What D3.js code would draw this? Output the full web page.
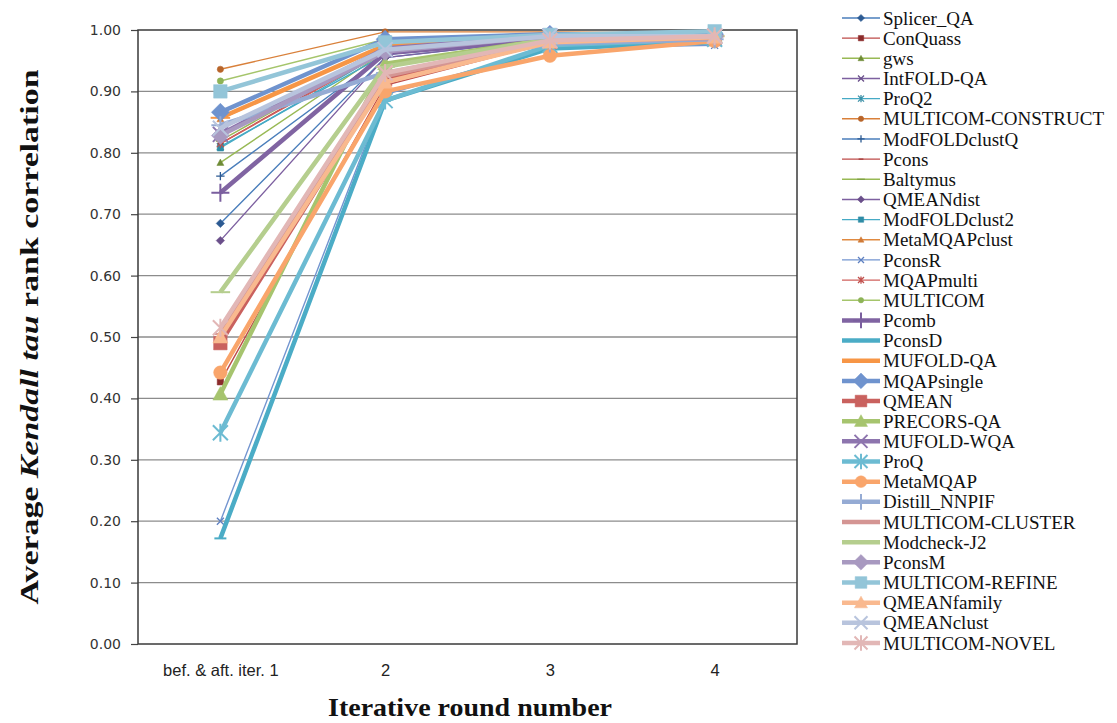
<!DOCTYPE html>
<html><head><meta charset="utf-8">
<script src="https://cdn.jsdelivr.net/npm/d3@7"></script>
<style>body{margin:0;background:#fff}svg{display:block}</style>
</head><body>
<svg id="chart" width="1117" height="723"></svg>
<script>
const categories = ["bef. & aft. iter. 1", "2", "3", "4"];
const seriesNames = ["Splicer_QA","ConQuass","gws","IntFOLD-QA","ProQ2","MULTICOM-CONSTRUCT","ModFOLDclustQ","Pcons","Baltymus","QMEANdist","ModFOLDclust2","MetaMQAPclust","PconsR","MQAPmulti","MULTICOM","Pcomb","PconsD","MUFOLD-QA","MQAPsingle","QMEAN","PRECORS-QA","MUFOLD-WQA","ProQ","MetaMQAP","Distill_NNPIF","MULTICOM-CLUSTER","Modcheck-J2","PconsM","MULTICOM-REFINE","QMEANfamily","QMEANclust","MULTICOM-NOVEL"];
const round1 = [0.685,0.427,0.784,0.840,0.810,0.936,0.762,0.815,0.820,0.657,0.808,0.855,0.200,0.815,0.917,0.735,0.172,0.857,0.866,0.490,0.407,0.830,0.344,0.442,0.845,0.505,0.573,0.828,0.900,0.500,0.840,0.515];
const round2 = [0.955,0.910,0.965,0.970,0.960,0.997,0.960,0.968,0.970,0.955,0.965,0.975,0.895,0.965,0.985,0.962,0.885,0.975,0.985,0.920,0.945,0.970,0.885,0.900,0.930,0.925,0.940,0.965,0.980,0.915,0.968,0.930];
const round3 = [0.985,0.980,0.990,0.990,0.985,0.997,0.988,0.990,0.990,0.985,0.988,0.992,0.970,0.988,0.995,0.985,0.970,0.990,0.993,0.980,0.985,0.990,0.975,0.958,0.978,0.982,0.985,0.990,0.992,0.980,0.990,0.983];
const round4 = [0.988,0.985,0.990,0.990,0.990,0.995,0.990,0.990,0.992,0.988,0.990,0.992,0.975,0.990,0.995,0.990,0.980,0.990,0.993,0.985,0.990,0.990,0.985,0.982,0.985,0.987,0.990,0.990,0.998,0.988,0.990,0.990];
const yTicks = [0,0.1,0.2,0.3,0.4,0.5,0.6,0.7,0.8,0.9,1.0];

const colors = ["#4A7EBB","#BE4B48","#98B954","#7D60A0","#46AAC5","#D9803A",
  "#4A7EBB","#BE4B48","#98B954","#7D60A0","#46AAC5","#E08A40",
  "#7395D0","#D0605D","#A5C56B","#8064A2","#4BACC6","#F79646",
  "#6F93CE","#C9615E","#A6C46E","#8D75AE","#6CBBD2","#F9A56B",
  "#95ABD4","#D49593","#B5CE8E","#A899C0","#93C5D8","#F9B98F","#B8C4DD","#E2B7B6"];
const markerColors = ["#2C5A92","#8B2B2B","#6E8B35","#6A4F8A","#3A8FA6","#B8652A",
  "#2C5A92","#A23B39","#7FA145","#6A4F8A","#2F8CA6","#D07A37",
  "#5D7FC0","#C0504D","#8DB356","#7A5E9E","#4BACC6","#F79646",
  "#6F93CE","#C9615E","#A6C46E","#8D75AE","#6CBBD2","#F9A56B",
  "#95ABD4","#D49593","#B5CE8E","#A899C0","#93C5D8","#F9B98F","#B8C4DD","#E2B7B6"];
const markers = ["diamond","square","triangle","x","asterisk","circle",
  "plus","dash","longdash","diamond","square","triangle",
  "x","asterisk","circle","plus","dash","longdash",
  "diamond","square","triangle","x","asterisk","circle",
  "plus","dash","longdash","diamond","square","triangle","x","asterisk"];

(function () {
const svg = d3.select("#chart");
const pL = 138, pR = 797, pT = 30, pB = 644;
const x = d3.scalePoint().domain(categories).range([pL, pR]).padding(0.5);
const y = d3.scaleLinear().domain([0, 1]).range([pB, pT]);

svg.append("g").selectAll("line").data(yTicks.slice(1, -1)).join("line")
  .attr("x1", pL).attr("x2", pR)
  .attr("y1", d => y(d)).attr("y2", d => y(d))
  .attr("stroke", "#8c8c8c").attr("stroke-width", 1.3);

const yAxis = svg.append("g").attr("transform", `translate(${pL},0)`)
  .call(d3.axisLeft(y).tickValues(yTicks).tickFormat(d3.format(".2f")).tickSize(7).tickPadding(10));
yAxis.select(".domain").remove();
yAxis.selectAll("line").attr("stroke", "#444").attr("stroke-width", 1.2);
yAxis.selectAll("text").attr("font-family", "DejaVu Sans, Verdana, sans-serif")
  .attr("font-size", 14).attr("fill", "#333");

const xAxis = svg.append("g").attr("transform", `translate(0,${pB})`)
  .call(d3.axisBottom(x).tickSize(0).tickPadding(20));
xAxis.select(".domain").remove();
xAxis.selectAll("text").attr("font-family", "Liberation Sans, Arial, sans-serif")
  .attr("font-size", 16.5).attr("fill", "#222");

svg.append("rect").attr("x", pL).attr("y", pT).attr("width", pR - pL).attr("height", pB - pT)
  .attr("fill", "none").attr("stroke", "#3a3a3a").attr("stroke-width", 1.5);

function markerPath(type, s) {
  switch (type) {
    case "diamond": { const h = s * 0.6; return `M0,${-h}L${h},0L0,${h}L${-h},0Z`; }
    case "square": { const h = s * 0.45; return `M${-h},${-h}H${h}V${h}H${-h}Z`; }
    case "triangle": { const h = s * 0.5; return `M0,${-h}L${h},${h * 0.8}L${-h},${h * 0.8}Z`; }
    case "circle": { const r = s * 0.45; return `M${r},0A${r},${r} 0 1,1 ${-r},0A${r},${r} 0 1,1 ${r},0Z`; }
    case "x": { const h = s * 0.5; return `M${-h},${-h}L${h},${h}M${-h},${h}L${h},${-h}`; }
    case "asterisk": { const h = s * 0.5; return `M${-h},${-h}L${h},${h}M${-h},${h}L${h},${-h}M0,${-h * 1.2}L0,${h * 1.2}`; }
    case "plus": { const h = s * 0.6; return `M${-h},0L${h},0M0,${-h}L0,${h}`; }
    case "dash": { const h = s * 0.4; return `M${-h},0L${h},0`; }
    case "longdash": { const h = s * 0.65; return `M${-h},0L${h},0`; }
  }
}
const filled = t => ["diamond","square","triangle","circle"].includes(t);

const series = seriesNames.map((name, i) => ({
  name, i, thick: i >= 15,
  values: [round1[i], round2[i], round3[i], round4[i]]
}));

const line = d3.line().x((d, j) => x(categories[j])).y(d => y(d));

const gS = svg.append("g");
series.forEach(s => {
  const g = gS.append("g");
  const lw = s.thick ? 4.5 : 1.4;
  const ms = s.thick ? 15 : 7;
  g.append("path").datum(s.values).attr("d", line)
    .attr("fill", "none").attr("stroke", colors[s.i]).attr("stroke-width", lw)
    .attr("stroke-linejoin", "round");
  const t = markers[s.i];
  g.selectAll("path.m").data(s.values).join("path").attr("class", "m")
    .attr("transform", (d, j) => `translate(${x(categories[j])},${y(d)})`)
    .attr("d", markerPath(t, ms))
    .attr("fill", filled(t) ? markerColors[s.i] : "none")
    .attr("stroke", markerColors[s.i])
    .attr("stroke-width", filled(t) ? 0.5 : (s.thick ? 2 : (t === "dash" || t === "longdash" ? 2.5 : 1.3)));
});

const lg = svg.append("g");
const ly0 = 18, lstep = 20.16;
series.forEach((s, k) => {
  const yy = ly0 + k * lstep;
  const lw = s.thick ? 4.5 : 1.4;
  const ms = s.thick ? 13 : 6;
  lg.append("line").attr("x1", 842).attr("x2", 880).attr("y1", yy).attr("y2", yy)
    .attr("stroke", colors[s.i]).attr("stroke-width", lw);
  const t = markers[s.i];
  lg.append("path").attr("transform", `translate(861,${yy})`).attr("d", markerPath(t, ms))
    .attr("fill", filled(t) ? markerColors[s.i] : "none")
    .attr("stroke", markerColors[s.i])
    .attr("stroke-width", filled(t) ? 0.5 : (s.thick ? 2 : 1.3));
  lg.append("text").attr("x", 883).attr("y", yy).attr("dy", "0.35em")
    .attr("font-family", "Liberation Serif, Times New Roman, serif").attr("font-size", 19)
    .attr("fill", "#111").text(s.name);
});

const yt = svg.append("text").attr("transform", "translate(38,337) rotate(-90)")
  .attr("text-anchor", "middle").attr("font-family", "Liberation Serif, Times New Roman, serif")
  .attr("font-size", 26).attr("font-weight", "bold").attr("fill", "#111")
  .attr("textLength", 535).attr("lengthAdjust", "spacingAndGlyphs");
yt.append("tspan").text("Average ");
yt.append("tspan").attr("font-style", "italic").text("Kendall tau");
yt.append("tspan").text(" rank correlation");

svg.append("text").attr("x", 470).attr("y", 716).attr("text-anchor", "middle")
  .attr("font-family", "Liberation Serif, Times New Roman, serif").attr("font-size", 25)
  .attr("font-weight", "bold").attr("fill", "#111")
  .attr("textLength", 284).attr("lengthAdjust", "spacingAndGlyphs")
  .text("Iterative round number");
})();
</script>
</body></html>
